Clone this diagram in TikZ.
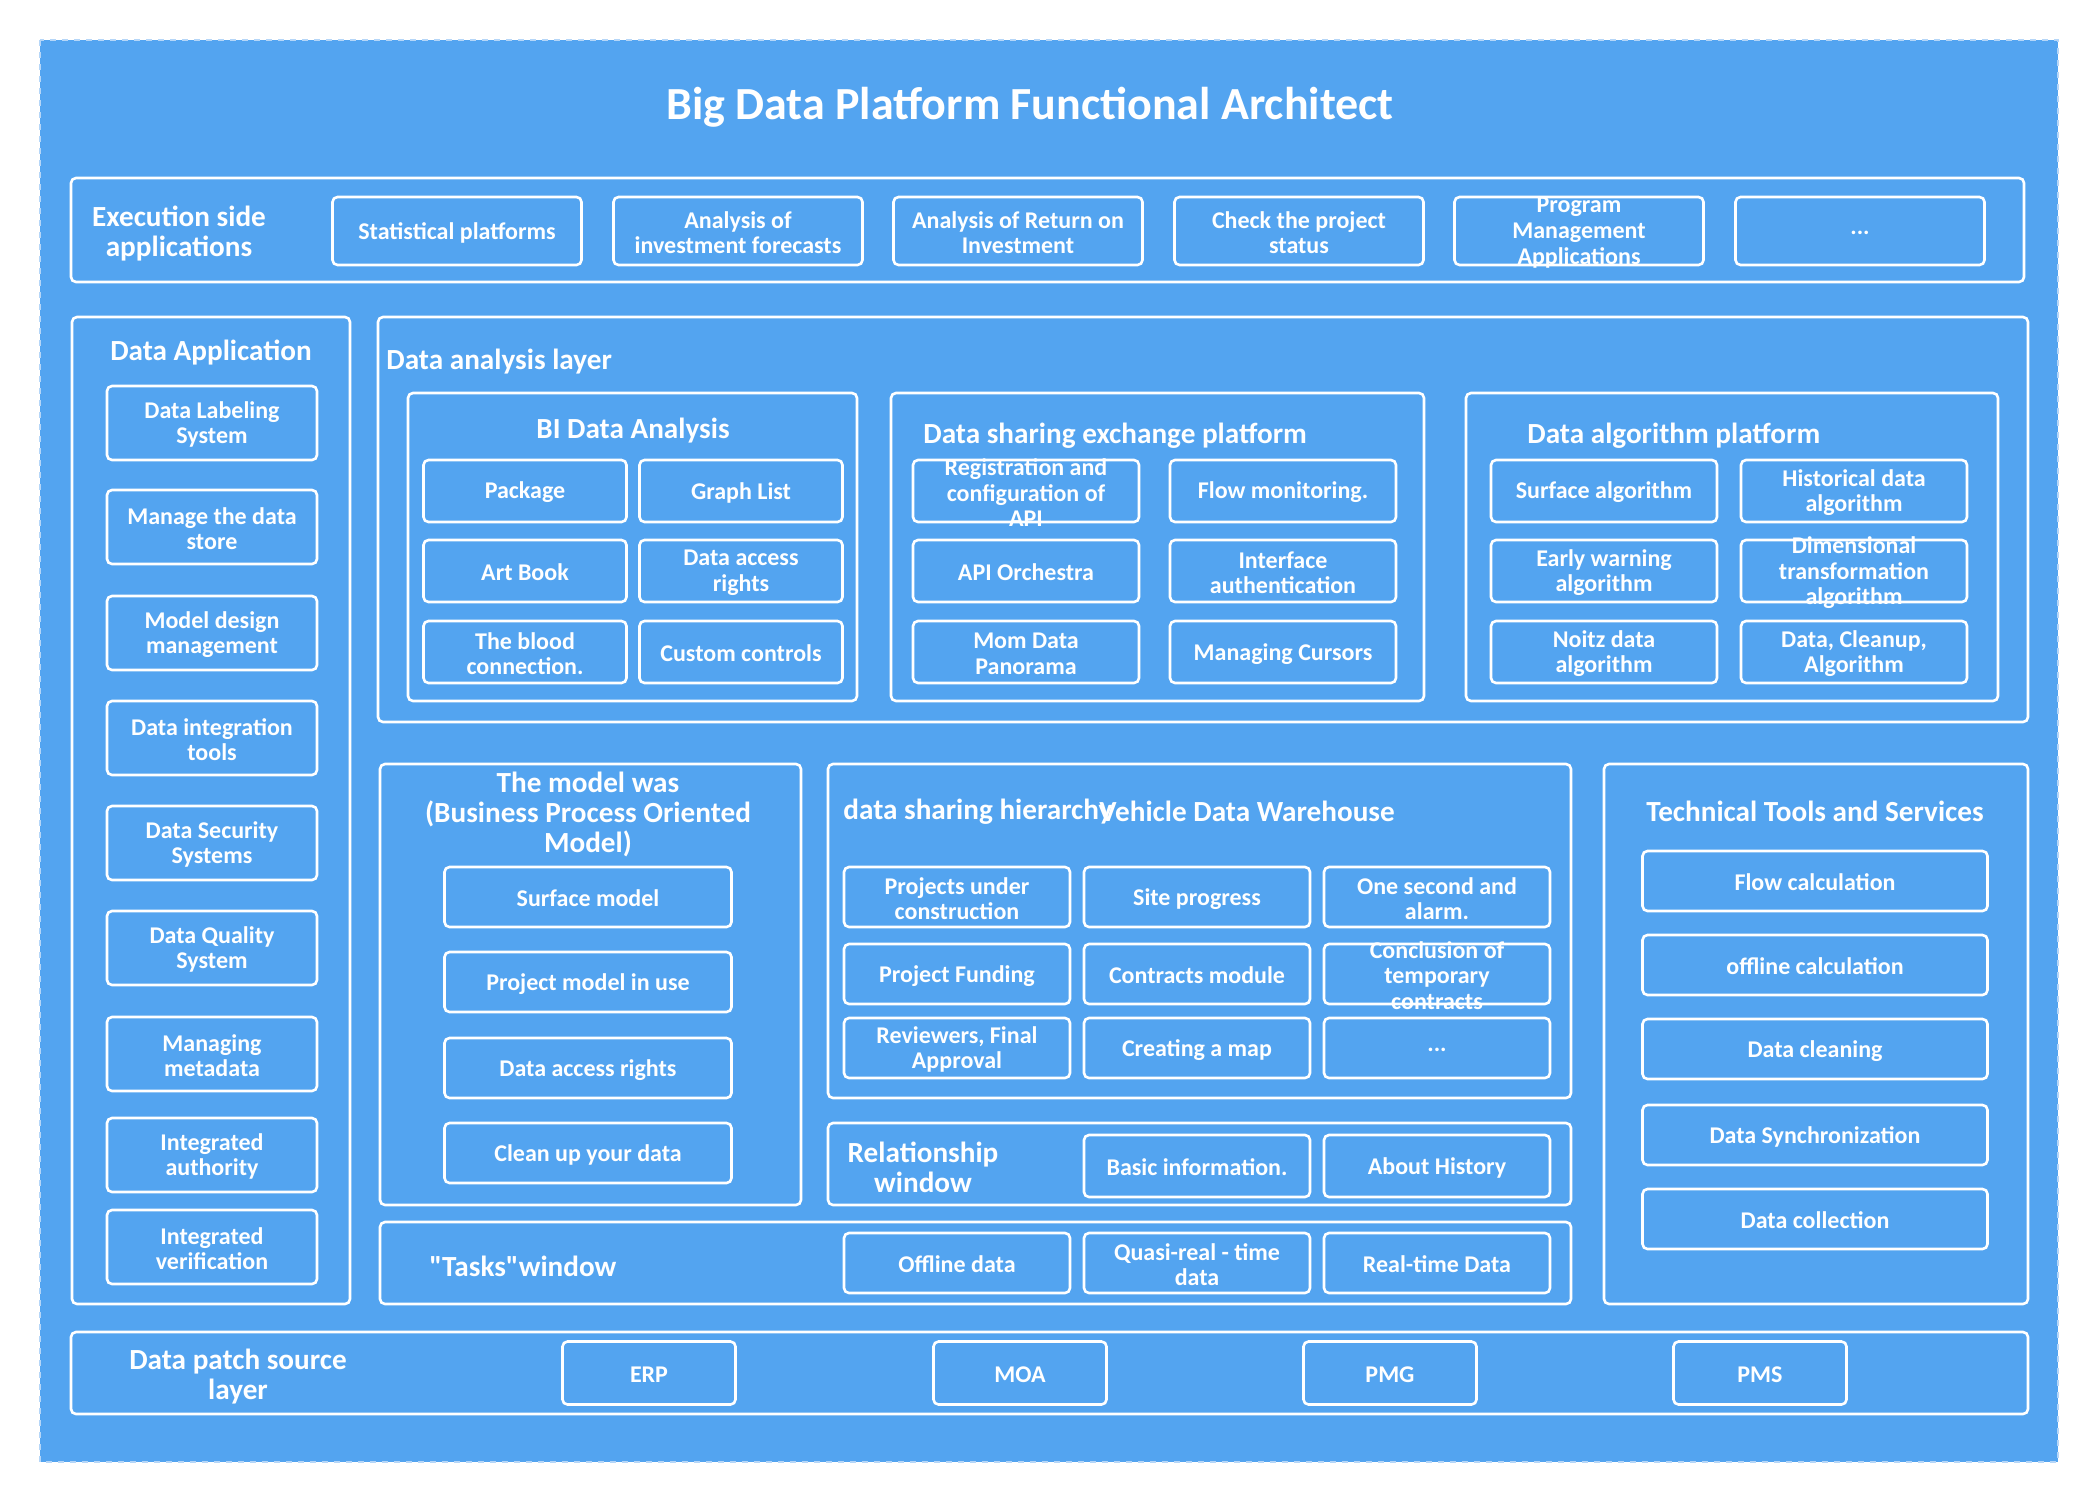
\documentclass[tikz,border=0pt]{standalone}
\usepackage{fontspec}
\setmainfont{Carlito}[Ligatures=TeXOff]
\usetikzlibrary{positioning}
\definecolor{nenxanh}{HTML}{53A4F0}
\definecolor{vienmo}{HTML}{B5D6F8}
\tikzset{
  khung/.style={draw=white, line width=1.3pt, rounded corners=2.5pt},
  hopnho/.style={draw=white, line width=1.3pt, rounded corners=2.5pt, inner sep=0pt},
  chu/.style={text=white, font=\bfseries\fontsize{12}{12.8}\selectfont, align=center, inner sep=0pt, yshift=-0.8pt},
  tieude/.style={text=white, font=\bfseries\fontsize{14.6}{15}\selectfont, align=center, inner sep=0pt, yshift=-1.3pt},
}
% hop: ten, x, y, rong, cao, chu
\newcommand{\hop}[6]{%
  \node[hopnho, minimum width=#4*0.5pt, minimum height=#5*0.5pt] (#1) at (#2,#3) {};
  \node[chu] (#1-chu) at (#1.center) {#6};
}
\begin{document}
\begin{tikzpicture}[x=0.5pt,y=-0.5pt]
    \useasboundingbox (0,0) rectangle (2097,1500);
    % Khung ngoai
    \filldraw[fill=nenxanh, draw=vienmo, dashed, line width=0.8pt] (40,40) rectangle (2058,1462);
    % Tieu de
    \node[text=white, font=\bfseries\fontsize{23}{26}\selectfont] (tieude) at (1030,107) {Big Data Platform Functional Architect};

    % Ung dung phia thuc thi
    \draw[khung] (71,178) rectangle (2024,282);
    \node[tieude] (thucthi) at (179,231) {Execution side\\applications};
    \foreach \x/\t [count=\i] in {457/{Statistical platforms}, 738/{Analysis of\\investment forecasts},
        1018/{Analysis of Return on\\Investment}, 1299/{Check the project\\status},
        1579/{Program\\Management\\Applications}, 1860/{...}}
    {\hop{ud\i}{\x}{231}{249}{68}{\t}}

    % Ung dung du lieu
    \draw[khung] (72,317) rectangle (350,1304);
    \node[tieude] (ungdung) at (211,350) {Data Application};
    \foreach \y/\t [count=\i] in {423/{Data Labeling\\System}, 527/{Manage the data\\store},
        633/{Model design\\management}, 738/{Data integration\\tools}, 843/{Data Security\\Systems},
        948/{Data Quality\\System}, 1054/{Managing\\metadata}, 1155/{Integrated\\authority},
        1247/{Integrated\\verification}}
    {\hop{da\i}{212}{\y}{210}{74}{\t}}

    % Lop phan tich du lieu
    \draw[khung] (378,317) rectangle (2028,722);
    \node[tieude, anchor=west] (phantich) at (386,359) {Data analysis layer};

    % BI
    \draw[khung] (408,393) rectangle (857,701);
    \node[tieude] (bi) at (633,428) {BI Data Analysis};
    \foreach \x/\y/\t [count=\i] in {525/491/{Package}, 741/491/{Graph List},
        525/571/{Art Book}, 741/571/{Data access\\rights},
        525/652/{The blood\\connection.}, 741/652/{Custom controls}}
    {\hop{bi\i}{\x}{\y}{203}{62}{\t}}

    % Nen tang trao doi
    \draw[khung] (891,393) rectangle (1424,701);
    \node[tieude, anchor=west] (traodoi) at (923,433) {Data sharing exchange platform};
    \foreach \x/\y/\t [count=\i] in {1026/491/{Registration and\\configuration of\\API}, 1283/491/{Flow monitoring.},
        1026/571/{API Orchestra}, 1283/571/{Interface\\authentication},
        1026/652/{Mom Data\\Panorama}, 1283/652/{Managing Cursors}}
    {\hop{td\i}{\x}{\y}{226}{62}{\t}}

    % Nen tang thuat toan
    \draw[khung] (1466,393) rectangle (1998,701);
    \node[tieude, anchor=west] (thuattoan) at (1527,433) {Data algorithm platform};
    \foreach \x/\y/\t [count=\i] in {1604/491/{Surface algorithm}, 1854/491/{Historical data\\algorithm},
        1604/571/{Early warning\\algorithm}, 1854/571/{Dimensional\\transformation\\algorithm},
        1604/652/{Noitz data\\algorithm}, 1854/652/{Data, Cleanup,\\Algorithm}}
    {\hop{tt\i}{\x}{\y}{226}{62}{\t}}

    % Mo hinh
    \draw[khung] (380,764) rectangle (801,1205);
    \node[tieude] (mohinh) at (588,812) {The model was\\(Business Process Oriented\\Model)};
    \foreach \y/\t [count=\i] in {897/{Surface model}, 982/{Project model in use},
        1068/{Data access rights}, 1153/{Clean up your data}}
    {\hop{mh\i}{588}{\y}{287}{60}{\t}}

    % Kho du lieu
    \draw[khung] (828,764) rectangle (1571,1098);
    \node[tieude, anchor=west] (phancap) at (843,809) {data sharing hierarchy};
    \node[tieude, anchor=west] (kho) at (1099,809) {Vehicle Data Warehouse};
    \foreach \x/\y/\t [count=\i] in {957/897/{Projects under\\construction}, 1197/897/{Site progress},
        1437/897/{One second and\\alarm.}, 957/974/{Project Funding}, 1197/974/{Contracts module},
        1437/974/{Conclusion of\\temporary\\contracts}, 957/1048/{Reviewers, Final\\Approval},
        1197/1048/{Creating a map}, 1437/1048/{...}}
    {\hop{kh\i}{\x}{\y}{226}{60}{\t}}

    % Cua so quan he
    \draw[khung] (828,1123) rectangle (1571,1205);
    \node[tieude] (quanhe) at (923,1165) {Relationship\\window};
    \hop{qh1}{1197}{1166}{226}{62}{Basic information.}
    \hop{qh2}{1437}{1166}{226}{62}{About History}

    % Cua so nhiem vu
    \draw[khung] (380,1222) rectangle (1571,1304);
    \node[tieude, anchor=west] (nhiemvu) at (429,1264) {"Tasks"window};
    \foreach \x/\t [count=\i] in {957/{Offline data}, 1197/{Quasi-real - time\\data}, 1437/{Real-time Data}}
    {\hop{nv\i}{\x}{1263}{226}{60}{\t}}

    % Cong cu ky thuat
    \draw[khung] (1604,764) rectangle (2028,1304);
    \node[tieude] (congcu) at (1815,809) {Technical Tools and Services};
    \foreach \y/\t [count=\i] in {881/{Flow calculation}, 965/{offline calculation},
        1049/{Data cleaning}, 1135/{Data Synchronization}, 1219/{Data collection}}
    {\hop{cc\i}{1815}{\y}{345}{60}{\t}}

    % Lop nguon du lieu
    \draw[khung] (71,1332) rectangle (2028,1414);
    \node[tieude] (nguon) at (238,1374) {Data patch source\\layer};
    \foreach \x/\t [count=\i] in {649/ERP, 1020/MOA, 1390/PMG, 1760/PMS}
    {\hop{ng\i}{\x}{1373}{173}{63}{\t}}
\end{tikzpicture}
\end{document}
